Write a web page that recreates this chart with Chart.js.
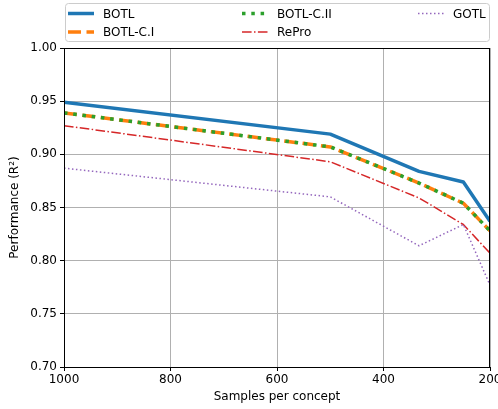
<!DOCTYPE html>
<html>
<head>
<meta charset="utf-8">
<script src="https://cdn.jsdelivr.net/npm/chart.js@4/dist/chart.umd.min.js"></script>
<style>
  html, body { margin: 0; padding: 0; background: #fff; }
  #wrap { width: 498px; height: 409px; }
</style>
</head>
<body>
<div id="wrap"><canvas id="myChart" width="498" height="409"></canvas></div>
<script>
// values
const samples = [1000, 500, 333.3, 250, 200];
const botl = [0.949, 0.919, 0.884, 0.874, 0.837];
const botlCI = [0.939, 0.907, 0.873, 0.854, 0.828];
const botlCII = [0.939, 0.907, 0.873, 0.854, 0.828];
const repro = [0.927, 0.893, 0.859, 0.834, 0.807];
const gotl = [0.887, 0.860, 0.814, 0.834, 0.777];

const xTicks = [1000, 800, 600, 400, 200];
const yTicks = [0.70, 0.75, 0.80, 0.85, 0.90, 0.95, 1.00];

const FONT = "'DejaVu Sans', sans-serif";
const FS = 12;

function pts(values) {
    return samples.map((s, i) => ({ x: s, y: values[i] }));
}

// matplotlib style legend, 3 columns filled column by column
const legendPlugin = {
    id: 'mplLegend',
    afterDraw(chart) {
        const ctx = chart.ctx;
        const ca = chart.chartArea;
        ctx.save();
        // spines on top and right
        ctx.strokeStyle = '#000';
        ctx.lineWidth = 1;
        ctx.strokeRect(Math.round(ca.left) + 0.5, Math.round(ca.top) + 0.5,
            Math.round(ca.right - ca.left) - 1, Math.round(ca.bottom - ca.top));

        const bx = 65.5, by = 3.5, bw = 424, bh = 38, r = 3;
        ctx.beginPath();
        ctx.moveTo(bx + r, by);
        ctx.arcTo(bx + bw, by, bx + bw, by + bh, r);
        ctx.arcTo(bx + bw, by + bh, bx, by + bh, r);
        ctx.arcTo(bx, by + bh, bx, by, r);
        ctx.arcTo(bx, by, bx + bw, by, r);
        ctx.closePath();
        ctx.fillStyle = 'rgba(255,255,255,0.8)';
        ctx.fill();
        ctx.strokeStyle = '#cccccc';
        ctx.stroke();

        const cols = [68, 242, 418];
        const rows = [13.5, 32];
        const handle = 26;
        ctx.font = FS + 'px ' + FONT;
        ctx.textBaseline = 'middle';
        chart.data.datasets.forEach((ds, i) => {
            const cx = cols[Math.floor(i / 2)];
            const cy = rows[i % 2];
            ctx.beginPath();
            ctx.setLineDash(ds.borderDash || []);
            ctx.lineWidth = ds.borderWidth;
            ctx.strokeStyle = ds.borderColor;
            ctx.lineCap = 'butt';
            ctx.moveTo(cx, cy);
            ctx.lineTo(cx + handle, cy);
            ctx.stroke();
            ctx.setLineDash([]);
            ctx.fillStyle = '#000';
            ctx.fillText(ds.label, cx + handle + 9, cy + 1);
        });
        ctx.restore();
    }
};

const ctx = document.getElementById('myChart').getContext('2d');
const myChart = new Chart(ctx, {
    type: 'line',
    data: {
        datasets: [
            { label: 'BOTL', data: pts(botl), borderColor: '#1f77b4', borderWidth: 3.5, order: 5 },
            { label: 'BOTL-C.I', data: pts(botlCI), borderColor: '#ff7f0e', borderWidth: 3.5, borderDash: [13, 5.5], order: 4 },
            { label: 'BOTL-C.II', data: pts(botlCII), borderColor: '#2ca02c', borderWidth: 3.5, borderDash: [3.5, 5.8], order: 3 },
            { label: 'RePro', data: pts(repro), borderColor: '#d62728', borderWidth: 1.5, borderDash: [9.6, 2.4, 1.5, 2.4], order: 2 },
            { label: 'GOTL', data: pts(gotl), borderColor: '#9467bd', borderWidth: 1.5, borderDash: [1.5, 2.5], order: 1 }
        ]
    },
    options: {
        responsive: false,
        animation: false,
        devicePixelRatio: 1,
        elements: {
            point: { radius: 0 },
            line: { tension: 0, fill: false, borderJoinStyle: 'round' }
        },
        layout: { padding: { top: 48, right: 8, left: 0, bottom: 0 } },
        plugins: {
            legend: { display: false },
            tooltip: { enabled: false }
        },
        scales: {
            x: {
                type: 'linear',
                reverse: true,
                min: 200,
                max: 1000,
                afterBuildTicks: s => { s.ticks = xTicks.map(v => ({ value: v })); },
                afterFit: s => { s.height = 42; s.paddingLeft = 0; s.paddingRight = 0; },
                grid: { color: '#b0b0b0', lineWidth: 1, tickColor: '#000', tickLength: 4 },
                border: { color: '#000', width: 1 },
                ticks: { color: '#000', padding: 2, maxRotation: 0, font: { family: FONT, size: FS }, callback: v => String(v) },
                title: { display: true, text: 'Samples per concept', color: '#000', padding: { top: 2, bottom: 5 }, font: { family: FONT, size: FS } }
            },
            y: {
                min: 0.70,
                max: 1.00,
                afterBuildTicks: s => { s.ticks = yTicks.map(v => ({ value: v })); },
                afterFit: s => { s.width = 64; },
                grid: { color: '#b0b0b0', lineWidth: 1, tickColor: '#000', tickLength: 4 },
                border: { color: '#000', width: 1 },
                ticks: { color: '#000', padding: 3, font: { family: FONT, size: FS }, callback: v => v.toFixed(2) },
                title: { display: true, text: 'Performance (R²)', color: '#000', padding: { top: 8, bottom: 0 }, font: { family: FONT, size: FS } }
            }
        }
    },
    plugins: [legendPlugin]
});
</script>
</body>
</html>
